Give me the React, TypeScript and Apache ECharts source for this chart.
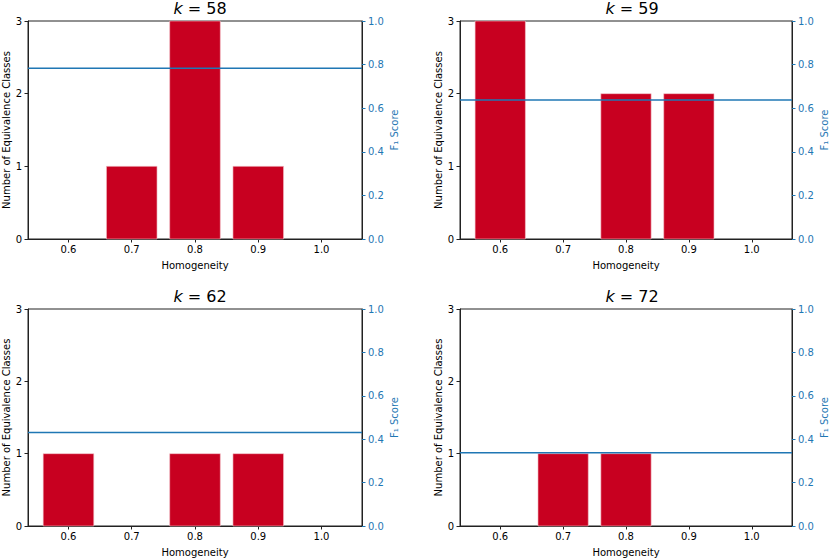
import React, { useEffect, useRef } from "react";
import * as echarts from "echarts";

const titles = ["58", "59", "62", "72"];
const barX58 = [0.7, 0.8, 0.9];
const barY58 = [1, 3, 1];
const barX59 = [0.6, 0.8, 0.9];
const barY59 = [3, 2, 2];
const barX62 = [0.6, 0.8, 0.9];
const barY62 = [1, 1, 1];
const barX72 = [0.7, 0.8];
const barY72 = [1, 1];
const f1Scores = [0.783, 0.638, 0.431, 0.338];
const xTicks = [0.6, 0.7, 0.8, 0.9, 1.0];
const xMin = 0.536;
const xMax = 1.064;
const barWidth = 0.08;

const panelsX = [barX58, barX59, barX62, barX72];
const panelsY = [barY58, barY59, barY62, barY72];

const FONT = "DejaVu Sans";
const BLUE = "#1f77b4";
const RED = "#c80020";

const gridPos = [
  { left: 28, top: 21 },
  { left: 460, top: 21 },
  { left: 28, top: 309 },
  { left: 460, top: 309 },
];
const GW = 334;
const GH = 218;

export default function App() {
  const ref = useRef<HTMLDivElement>(null);
  useEffect(() => {
    if (!ref.current) return;
    const chart = echarts.init(ref.current, null, { renderer: "svg" });
    const grid: any[] = [];
    const xAxis: any[] = [];
    const yAxis: any[] = [];
    const series: any[] = [];
    const title: any[] = [];
    gridPos.forEach((g, i) => {
      grid.push({
        left: g.left,
        top: g.top,
        width: GW,
        height: GH,
        show: true,
        borderColor: "#222",
        borderWidth: 1,
        backgroundColor: "transparent",
      });
      title.push({
        text: "{i|k} = " + titles[i],
        left: g.left + GW / 2,
        textAlign: "center",
        top: g.top - 26,
        textStyle: {
          fontFamily: FONT,
          fontSize: 16,
          fontWeight: "normal",
          color: "#000",
          rich: {
            i: { fontFamily: FONT, fontSize: 16, fontStyle: "italic", color: "#000" },
          },
        },
      });
      xAxis.push({
        type: "value",
        gridIndex: i,
        min: xMin,
        max: xMax,
        name: "Homogeneity",
        nameLocation: "middle",
        nameGap: 21,
        nameTextStyle: { fontFamily: FONT, fontSize: 10, color: "#000" },
        splitLine: { show: false },
        axisLine: { show: true, lineStyle: { color: "#222", width: 1 } },
        axisTick: {
          show: true,
          length: 3.5,
          lineStyle: { color: "#222" },
          customValues: xTicks,
        },
        axisLabel: {
          show: true,
          margin: 5,
          fontFamily: FONT,
          fontSize: 10,
          color: "#000",
          customValues: xTicks,
          formatter: (v: number) => v.toFixed(1),
        },
      });
      yAxis.push({
        type: "value",
        gridIndex: i,
        position: "left",
        min: 0,
        max: 3,
        interval: 1,
        name: "Number of Equivalence Classes",
        nameLocation: "middle",
        nameRotate: 90,
        nameGap: 15,
        nameTextStyle: { fontFamily: FONT, fontSize: 10, color: "#000" },
        splitLine: { show: false },
        axisLine: { show: true, lineStyle: { color: "#222", width: 1 } },
        axisTick: { show: true, length: 3.5, lineStyle: { color: "#222" } },
        axisLabel: { margin: 6, fontFamily: FONT, fontSize: 10, color: "#000" },
      });
      yAxis.push({
        type: "value",
        gridIndex: i,
        position: "right",
        min: 0,
        max: 1,
        interval: 0.2,
        name: "F\u2081 Score",
        nameLocation: "middle",
        nameRotate: 90,
        nameGap: 27,
        nameTextStyle: { fontFamily: FONT, fontSize: 10, color: BLUE },
        splitLine: { show: false },
        axisLine: { show: true, lineStyle: { color: "#222", width: 1 } },
        axisTick: { show: true, length: 3.5, lineStyle: { color: BLUE } },
        axisLabel: {
          margin: 6,
          fontFamily: FONT,
          fontSize: 10,
          color: BLUE,
          formatter: (v: number) => v.toFixed(1),
        },
      });
      const bx = panelsX[i];
      const by = panelsY[i];
      series.push({
        type: "custom",
        xAxisIndex: i,
        yAxisIndex: i * 2,
        data: bx.map((x, j) => [x, by[j]]),
        renderItem: (params: any, api: any) => {
          const x = api.value(0);
          const y = api.value(1);
          const p1 = api.coord([x - barWidth / 2, y]);
          const p2 = api.coord([x + barWidth / 2, 0]);
          return {
            type: "rect",
            shape: { x: p1[0], y: p1[1], width: p2[0] - p1[0], height: p2[1] - p1[1] },
            style: { fill: RED, stroke: "#f4c6cc", lineWidth: 0.6 },
          };
        },
        z: 2,
      });
      series.push({
        type: "line",
        xAxisIndex: i,
        yAxisIndex: i * 2 + 1,
        data: [
          [xMin, f1Scores[i]],
          [xMax, f1Scores[i]],
        ],
        showSymbol: false,
        symbol: "none",
        lineStyle: { color: BLUE, width: 1.5 },
        z: 3,
      });
    });
    chart.setOption({
      animation: false,
      backgroundColor: "#fff",
      title,
      grid,
      xAxis,
      yAxis,
      series,
    });
    return () => chart.dispose();
  }, []);
  return (
    <div
      ref={ref}
      style={{ position: "fixed", left: 0, top: 0, width: 830, height: 558 }}
    />
  );
}
